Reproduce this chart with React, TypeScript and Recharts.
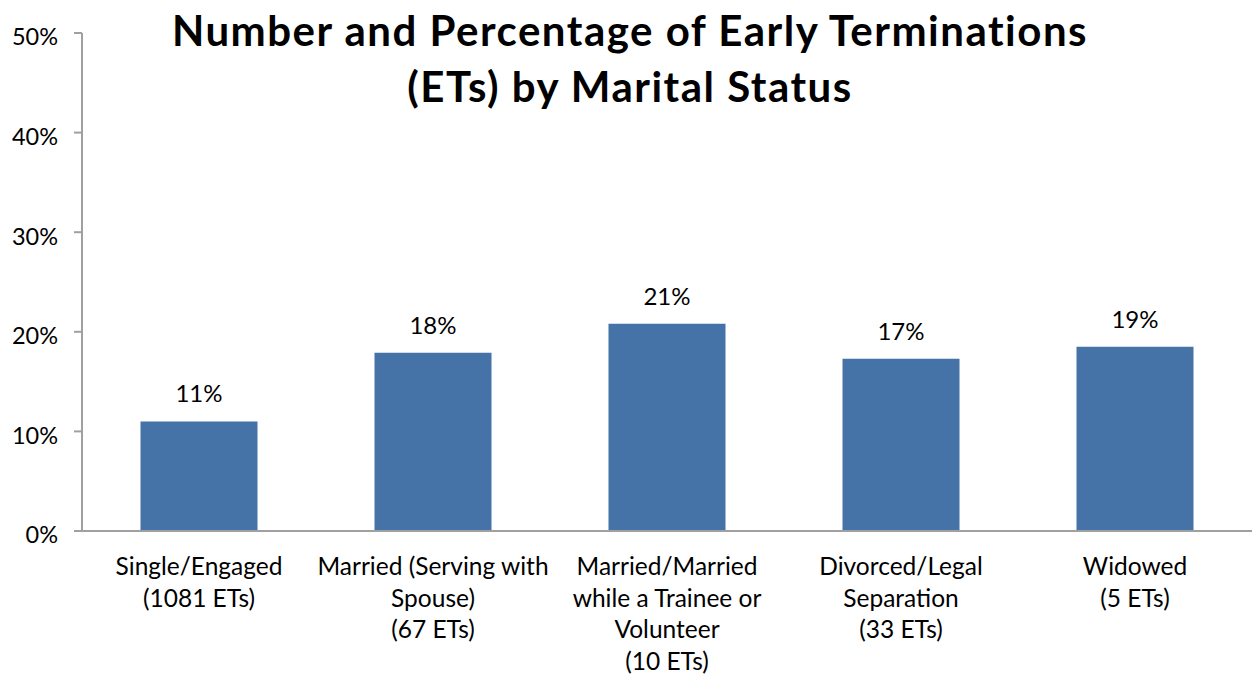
import React from 'react';
import { BarChart, Bar, XAxis, YAxis, LabelList } from 'recharts';

const categories = [
  'Single/Engaged\n(1081 ETs)',
  'Married (Serving with\nSpouse)\n(67 ETs)',
  'Married/Married\nwhile a Trainee or\nVolunteer\n(10 ETs)',
  'Divorced/Legal\nSeparation\n(33 ETs)',
  'Widowed\n(5 ETs)',
];
const etRates = [0.11, 0.179, 0.208, 0.173, 0.185];
const yTicks = [0, 0.1, 0.2, 0.3, 0.4, 0.5];
const titleLines = ['Number and Percentage of Early Terminations', '(ETs) by Marital Status'];

const data = categories.map((name, i) => ({ name, rate: etRates[i] }));

const FONT = 'Lato, "Open Sans", sans-serif';
const pct = (v: number) => `${Math.round(v * 100)}%`;

const CategoryTick = (props: any) => {
  const { x, y, payload } = props;
  const lines = String(payload.value).split('\n');
  return (
    <g transform={`translate(${x},${y})`}>
      {lines.map((line: string, i: number) => (
        <text
          key={i}
          x={0}
          y={36 + i * 31.5}
          textAnchor="middle"
          fill="#000"
          fontSize={24.5}
          fontFamily={FONT}
        >
          {line}
        </text>
      ))}
    </g>
  );
};

const App: React.FC = () => {
  return (
    <div style={{ position: 'absolute', left: 0, top: 0, width: 1252, height: 675, background: '#fff' }}>
      <BarChart
        width={1252}
        height={675}
        data={data}
        margin={{ top: 33, right: 0, left: 0, bottom: 0 }}
        barCategoryGap="25%"
      >
        <XAxis
          dataKey="name"
          interval={0}
          height={144}
          tickLine={false}
          axisLine={{ stroke: '#a0a0a0', strokeWidth: 2 }}
          tick={<CategoryTick />}
        />
        <YAxis
          width={82}
          domain={[0, 0.5]}
          ticks={yTicks}
          tickFormatter={pct}
          tickSize={8}
          tickMargin={16}
          axisLine={{ stroke: '#a0a0a0', strokeWidth: 2 }}
          tickLine={{ stroke: '#a0a0a0', strokeWidth: 2 }}
          tick={{ fill: '#000', fontSize: 23.5, fontFamily: FONT, dy: 4 }}
        />
        <Bar dataKey="rate" fill="#4572A7" isAnimationActive={false}>
          <LabelList
            dataKey="rate"
            position="top"
            offset={19}
            formatter={(v: any) => pct(Number(v))}
            fill="#000"
            fontSize={24}
            fontFamily={FONT}
          />
        </Bar>
      </BarChart>
      <div
        style={{
          position: 'absolute',
          left: 0,
          top: 2,
          width: 1260,
          textAlign: 'center',
          fontFamily: FONT,
          fontWeight: 'bold',
          fontSize: 42,
          letterSpacing: 1.5,
          lineHeight: '56px',
          color: '#000',
          pointerEvents: 'none',
        }}
      >
        {titleLines.map((t) => (
          <div key={t}>{t}</div>
        ))}
      </div>
    </div>
  );
};

export default App;
